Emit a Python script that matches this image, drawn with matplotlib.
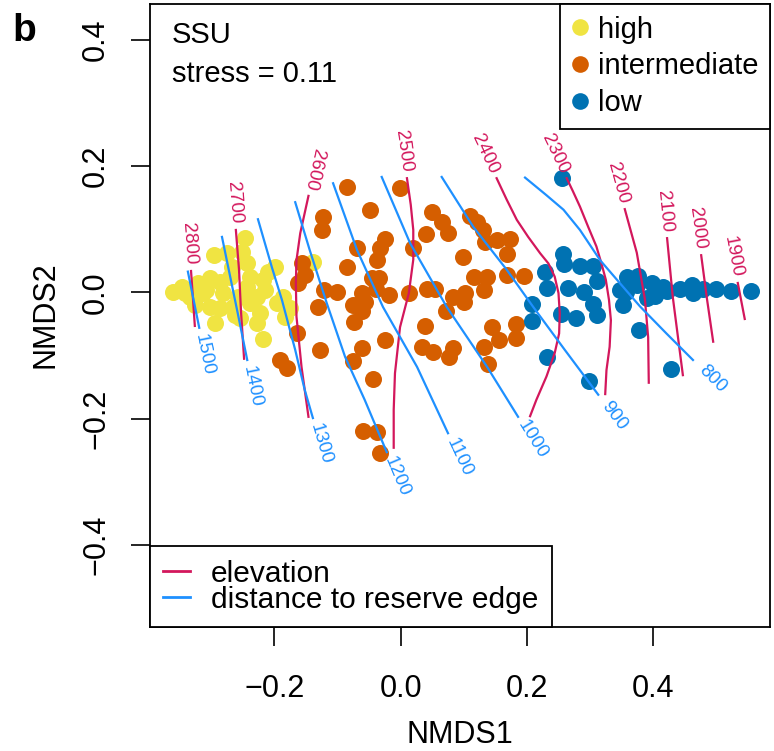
import numpy as np
import matplotlib.pyplot as plt
from matplotlib.lines import Line2D
from matplotlib.ticker import FixedLocator, FuncFormatter

plt.rcParams['font.family'] = ['Liberation Sans', 'DejaVu Sans']

# NMDS site scores by elevation class
high_x = [-0.247, -0.296, -0.275, -0.251, -0.267, -0.243, -0.199, -0.210, -0.302, -0.321,
          -0.346, -0.361, -0.286, -0.270, -0.239, -0.243, -0.218, -0.215, -0.228, -0.186,
          -0.196, -0.175, -0.183, -0.326, -0.302, -0.286, -0.266, -0.262, -0.294, -0.255,
          -0.228, -0.218, -0.334, -0.313, -0.281, -0.258, -0.239, -0.139, -0.223, -0.308,
          -0.342]
high_y = [0.086, 0.059, 0.063, 0.064, 0.040, 0.047, 0.040, 0.033, 0.023, 0.015,
          0.009, 0.001, 0.017, 0.025, 0.025, 0.009, 0.020, 0.004, -0.007, -0.007,
          -0.017, -0.025, -0.039, -0.020, -0.023, -0.025, -0.023, -0.036, -0.048, -0.040,
          -0.048, -0.074, -0.007, -0.001, -0.001, -0.007, -0.017, 0.048, -0.033, 0.004,
          -0.001]

mid_x = [-0.085, -0.001, -0.049, -0.123, -0.125, 0.050, 0.065, 0.075, 0.040, 0.110,
         0.121, 0.130, 0.134, 0.153, 0.173, 0.168, 0.099, -0.025, -0.033, -0.069,
         -0.038, 0.020, -0.085, -0.156, -0.152, -0.163, -0.034, -0.046, -0.122, -0.101,
         -0.061, -0.039, -0.019, 0.013, 0.042, 0.054, 0.083, 0.102, 0.100, 0.116,
         0.137, 0.132, 0.168, 0.195, -0.057, -0.076, -0.061, -0.131, -0.074, 0.072,
         0.039, 0.145, 0.183, 0.156, 0.183, 0.132, 0.138, -0.025, -0.061, -0.128,
         0.034, 0.051, 0.077, 0.083, -0.076, -0.044, -0.060, -0.038, -0.033, -0.164,
         -0.191, -0.180]
mid_y = [0.167, 0.166, 0.131, 0.120, 0.099, 0.128, 0.112, 0.094, 0.093, 0.121,
         0.112, 0.099, 0.080, 0.083, 0.085, 0.061, 0.056, 0.085, 0.071, 0.071,
         0.052, 0.071, 0.040, 0.047, 0.028, 0.015, 0.023, 0.023, 0.004, 0.001,
         -0.001, 0.006, -0.004, -0.001, 0.006, 0.006, -0.007, -0.001, -0.015, 0.025,
         0.025, 0.004, 0.028, 0.026, -0.015, -0.020, -0.029, -0.023, -0.047, -0.029,
         -0.053, -0.055, -0.050, -0.075, -0.072, -0.086, -0.113, -0.075, -0.088, -0.091,
         -0.086, -0.094, -0.102, -0.088, -0.109, -0.137, -0.219, -0.221, -0.254, -0.064,
         -0.107, -0.120]

low_x = [0.256, 0.257, 0.259, 0.229, 0.232, 0.284, 0.305, 0.311, 0.265, 0.290,
         0.305, 0.311, 0.254, 0.278, 0.208, 0.208, 0.232, 0.298, 0.358, 0.376,
         0.347, 0.357, 0.352, 0.374, 0.390, 0.398, 0.403, 0.415, 0.422, 0.377,
         0.428, 0.461, 0.463, 0.479, 0.499, 0.523, 0.555, 0.443]
low_y = [0.181, 0.061, 0.045, 0.033, 0.007, 0.042, 0.042, 0.018, 0.007, 0.001,
         -0.018, -0.036, -0.034, -0.040, -0.018, -0.045, -0.102, -0.140, 0.025, 0.026,
         0.004, 0.001, -0.020, 0.012, -0.009, 0.015, -0.006, 0.009, 0.002, -0.059,
         -0.121, 0.012, -0.001, 0.006, 0.006, 0.002, 0.002, 0.005]

# fitted surface contours (ordisurf), each traced top to bottom
elev_levels = [2800, 2700, 2600, 2500, 2400, 2300, 2200, 2100, 2000, 1900]
elev_x = [
    [-0.332, -0.329, -0.326],
    [-0.261, -0.256, -0.253, -0.248],
    [-0.146, -0.159, -0.165, -0.166, -0.165, -0.157, -0.146],
    [0.010, 0.016, 0.020, 0.020, 0.013, -0.001, -0.009, -0.011, -0.011],
    [0.152, 0.168, 0.184, 0.202, 0.221, 0.234, 0.244, 0.250, 0.252, 0.251, 0.244,
     0.231, 0.215, 0.205],
    [0.263, 0.273, 0.284, 0.297, 0.310, 0.318, 0.325, 0.330, 0.333, 0.331, 0.326,
     0.324],
    [0.355, 0.374, 0.387, 0.392, 0.393],
    [0.422, 0.431, 0.447],
    [0.476, 0.485, 0.495],
    [0.534, 0.545],
]
elev_y = [
    [0.034, -0.009, -0.053],
    [0.099, 0.036, -0.028, -0.105],
    [0.153, 0.094, 0.051, 0.015, -0.038, -0.118, -0.197],
    [0.181, 0.139, 0.099, 0.052, -0.001, -0.055, -0.128, -0.186, -0.246],
    [0.181, 0.147, 0.115, 0.088, 0.062, 0.046, 0.025, -0.001, -0.033, -0.065, -0.096,
     -0.133, -0.170, -0.196],
    [0.181, 0.160, 0.136, 0.104, 0.073, 0.046, 0.020, -0.012, -0.044, -0.086, -0.123,
     -0.161],
    [0.132, 0.063, -0.012, -0.071, -0.143],
    [0.086, -0.007, -0.131],
    [0.059, -0.009, -0.078],
    [0.015, -0.042],
]

dist_levels = [1500, 1400, 1300, 1200, 1100, 1000, 900, 800]
dist_x = [
    [-0.337, -0.319],
    [-0.283, -0.270, -0.258, -0.243],
    [-0.226, -0.204, -0.188, -0.167, -0.152, -0.139],
    [-0.167, -0.144, -0.117, -0.088, -0.057, -0.022],
    [-0.107, -0.069, -0.028, 0.026, 0.075],
    [-0.030, 0.015, 0.073, 0.137, 0.186],
    [0.065, 0.115, 0.168, 0.210, 0.260, 0.313],
    [0.197, 0.231, 0.258, 0.284, 0.316, 0.347, 0.379, 0.421, 0.463],
]
dist_y = [
    [0.033, -0.056],
    [0.088, 0.025, -0.033, -0.107],
    [0.116, 0.040, -0.012, -0.091, -0.154, -0.199],
    [0.143, 0.067, -0.017, -0.102, -0.170, -0.253],
    [0.173, 0.067, -0.023, -0.118, -0.223],
    [0.183, 0.078, -0.023, -0.118, -0.197],
    [0.183, 0.104, 0.036, -0.023, -0.091, -0.162],
    [0.182, 0.154, 0.131, 0.099, 0.051, 0.015, -0.022, -0.065, -0.107],
]

groups = ['high', 'intermediate', 'low']
group_colors = ['#F0E442', '#D55E00', '#0072B2']
elev_color = '#D3175C'
dist_color = '#1E90FF'


def label_line(ax, xs, ys, text, color, at_start, gap=27):
    """Put a contour label just beyond one end of the line, along its direction."""
    pts = ax.transData.transform(np.column_stack([xs, ys]))
    if at_start:
        d = pts[1] - pts[0]
        d = d / np.hypot(*d)
        c = pts[0] - d * gap
    else:
        d = pts[-1] - pts[-2]
        d = d / np.hypot(*d)
        c = pts[-1] + d * gap
    ang = np.degrees(np.arctan2(d[1], d[0]))
    xd, yd = ax.transData.inverted().transform(c)
    ax.text(xd, yd, text, color=color, fontsize=13.5, rotation=ang,
            rotation_mode='anchor', ha='center', va='center')


fig = plt.figure(figsize=(7.74, 7.51), dpi=100)
ax = fig.add_axes([150 / 774, 1 - 627 / 751, 620 / 774, 623 / 751])
ax.set_xlim(-0.397, 0.585)
ax.set_ylim(-0.530, 0.457)

for gx, gy, col in zip([high_x, mid_x, low_x], [high_y, mid_y, low_y], group_colors):
    ax.scatter(gx, gy, s=150, color=col, linewidths=0, zorder=2)

for lev, xs, ys in zip(elev_levels, elev_x, elev_y):
    ax.plot(xs, ys, color=elev_color, lw=1.6, zorder=3, solid_joinstyle='round')
    label_line(ax, xs, ys, str(lev), elev_color, at_start=True)

for lev, xs, ys in zip(dist_levels, dist_x, dist_y):
    ax.plot(xs, ys, color=dist_color, lw=1.6, zorder=3, solid_joinstyle='round')
    label_line(ax, xs, ys, str(lev), dist_color, at_start=False)

fmt = FuncFormatter(lambda v, p: f"{v:.1f}".replace("-0.0", "0.0").replace("-", "\u2212"))
ax.xaxis.set_major_locator(FixedLocator([-0.2, 0.0, 0.2, 0.4]))
ax.yaxis.set_major_locator(FixedLocator([-0.4, -0.2, 0.0, 0.2, 0.4]))
ax.xaxis.set_major_formatter(fmt)
ax.yaxis.set_major_formatter(fmt)
ax.tick_params(direction='out', length=14, width=1.2, labelsize=22)
ax.tick_params(axis='x', pad=20)
ax.tick_params(axis='y', pad=14, labelrotation=90)
for lbl in ax.get_yticklabels():
    lbl.set_va('center')
for sp in ax.spines.values():
    sp.set_linewidth(1.3)

# axis titles placed in figure pixels so the lower one stays inside the canvas
fig.text(460 / 774, 1 - 743 / 751, 'NMDS1', fontsize=22, ha='center', va='baseline')
fig.text(46 / 774, 1 - 315 / 751, 'NMDS2', fontsize=22, rotation=90,
         ha='center', va='center')

ax.text(0.0355, 0.937, 'SSU', transform=ax.transAxes, fontsize=21, va='baseline')
ax.text(0.0355, 0.875, 'stress = 0.11', transform=ax.transAxes, fontsize=21, va='baseline')
fig.text(12 / 774, 1 - 41 / 751, 'b', fontsize=28, fontweight='bold', va='baseline')

pt_handles = [Line2D([], [], ls='none', marker='o', ms=12, mfc=c, mec='none')
              for c in group_colors]
leg1 = ax.legend(pt_handles, groups, loc='upper right', borderaxespad=0, fontsize=21,
                 fancybox=False, edgecolor='black', framealpha=1, handlelength=0.55,
                 handletextpad=0.35, borderpad=0.4, labelspacing=0.3)
leg1.get_frame().set_linewidth(1.3)
ax.add_artist(leg1)

ln_handles = [Line2D([], [], color=elev_color, lw=2), Line2D([], [], color=dist_color, lw=2)]
leg2 = ax.legend(ln_handles, ['elevation', 'distance to reserve edge'], loc='lower left',
                 borderaxespad=0, fontsize=21.5, fancybox=False, edgecolor='black',
                 framealpha=1, handlelength=0.9, handletextpad=0.7, borderpad=0.45,
                 labelspacing=-0.07)
leg2.get_frame().set_linewidth(1.3)

fig.savefig('out.png', dpi=100)
